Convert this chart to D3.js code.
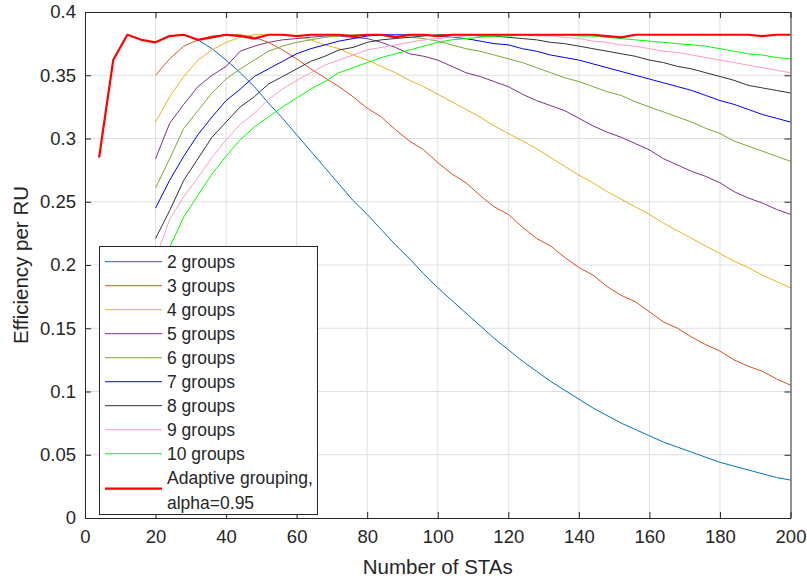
<!DOCTYPE html>
<html>
<head>
<meta charset="utf-8">
<script src="https://cdn.jsdelivr.net/npm/d3@7"></script>
<style>
  body { margin: 0; background: #fff; }
  text { font-family: "Liberation Sans", Arial, sans-serif; fill: #262626; }
</style>
</head>
<body>
<div id="chart"></div>
<script>
// Number of STAs for the fixed-group curves and for the adaptive curve
const stas = [20, 24, 28, 32, 36, 40, 44, 48, 52, 56, 60, 64, 68, 72, 76, 80, 84, 88, 92, 96,
  100, 104, 108, 112, 116, 120, 124, 128, 132, 136, 140, 144, 148, 152, 156, 160, 164, 168,
  172, 176, 180, 184, 188, 192, 196, 200];
const stasAdaptive = [4, 8, 12, 16].concat(stas);

const groups2 = [0.376, 0.381, 0.382, 0.378, 0.371, 0.362, 0.352, 0.341, 0.328, 0.316, 0.303,
  0.290, 0.277, 0.264, 0.251, 0.240, 0.228, 0.216, 0.205, 0.193, 0.182, 0.172, 0.162, 0.152,
  0.142, 0.133, 0.124, 0.116, 0.108, 0.101, 0.094, 0.087, 0.081, 0.075, 0.070, 0.065, 0.060,
  0.056, 0.052, 0.048, 0.044, 0.041, 0.038, 0.035, 0.032, 0.030];
const groups3 = [0.350, 0.363, 0.373, 0.378, 0.381, 0.382, 0.382, 0.380, 0.376, 0.370, 0.363,
  0.355, 0.348, 0.341, 0.333, 0.324, 0.317, 0.307, 0.298, 0.291, 0.281, 0.272, 0.265, 0.255,
  0.246, 0.240, 0.230, 0.221, 0.215, 0.206, 0.198, 0.192, 0.183, 0.176, 0.171, 0.163, 0.155,
  0.150, 0.143, 0.137, 0.132, 0.125, 0.120, 0.116, 0.110, 0.105];
const groups4 = [0.313, 0.333, 0.349, 0.362, 0.370, 0.376, 0.380, 0.382, 0.382, 0.382, 0.381,
  0.378, 0.374, 0.371, 0.366, 0.362, 0.357, 0.352, 0.346, 0.341, 0.335, 0.329, 0.323, 0.317,
  0.310, 0.304, 0.298, 0.292, 0.285, 0.278, 0.271, 0.265, 0.258, 0.252, 0.246, 0.240, 0.233,
  0.227, 0.221, 0.215, 0.209, 0.203, 0.198, 0.192, 0.187, 0.182];
const groups5 = [0.284, 0.312, 0.327, 0.341, 0.350, 0.357, 0.369, 0.373, 0.376, 0.378, 0.379,
  0.380, 0.381, 0.381, 0.380, 0.379, 0.376, 0.372, 0.367, 0.365, 0.362, 0.357, 0.352, 0.349,
  0.345, 0.341, 0.335, 0.330, 0.326, 0.322, 0.316, 0.310, 0.305, 0.301, 0.296, 0.291, 0.284,
  0.279, 0.274, 0.270, 0.265, 0.258, 0.253, 0.249, 0.244, 0.240];
const groups6 = [0.261, 0.284, 0.308, 0.322, 0.336, 0.347, 0.355, 0.362, 0.369, 0.373, 0.376,
  0.378, 0.380, 0.381, 0.382, 0.382, 0.382, 0.381, 0.380, 0.379, 0.377, 0.374, 0.371, 0.369,
  0.366, 0.363, 0.360, 0.356, 0.352, 0.348, 0.345, 0.341, 0.337, 0.334, 0.329, 0.325, 0.321,
  0.317, 0.313, 0.308, 0.304, 0.298, 0.294, 0.290, 0.286, 0.282];
const groups7 = [0.245, 0.267, 0.286, 0.303, 0.317, 0.330, 0.339, 0.349, 0.355, 0.361, 0.367,
  0.371, 0.374, 0.377, 0.379, 0.381, 0.382, 0.382, 0.382, 0.382, 0.381, 0.380, 0.379, 0.377,
  0.375, 0.374, 0.371, 0.369, 0.366, 0.364, 0.362, 0.359, 0.356, 0.353, 0.350, 0.347, 0.344,
  0.341, 0.338, 0.334, 0.330, 0.327, 0.323, 0.319, 0.316, 0.313];
const groups8 = [0.221, 0.243, 0.267, 0.284, 0.301, 0.313, 0.325, 0.333, 0.343, 0.349, 0.355,
  0.361, 0.365, 0.370, 0.372, 0.376, 0.378, 0.379, 0.380, 0.381, 0.382, 0.382, 0.382, 0.381,
  0.381, 0.380, 0.379, 0.378, 0.376, 0.375, 0.373, 0.371, 0.369, 0.367, 0.365, 0.362, 0.360,
  0.357, 0.355, 0.352, 0.349, 0.346, 0.342, 0.340, 0.338, 0.336];
const groups9 = [0.205, 0.236, 0.254, 0.269, 0.285, 0.299, 0.311, 0.320, 0.331, 0.339, 0.346,
  0.352, 0.358, 0.362, 0.366, 0.370, 0.372, 0.374, 0.376, 0.378, 0.379, 0.380, 0.381, 0.382,
  0.382, 0.382, 0.382, 0.381, 0.381, 0.380, 0.379, 0.377, 0.376, 0.374, 0.373, 0.371, 0.369,
  0.368, 0.366, 0.364, 0.362, 0.360, 0.358, 0.356, 0.354, 0.352];
const groups10 = [0.190, 0.214, 0.238, 0.255, 0.272, 0.286, 0.299, 0.309, 0.317, 0.325, 0.332,
  0.339, 0.345, 0.352, 0.356, 0.360, 0.364, 0.367, 0.370, 0.373, 0.376, 0.378, 0.379, 0.380,
  0.381, 0.381, 0.382, 0.382, 0.382, 0.382, 0.381, 0.381, 0.380, 0.379, 0.378, 0.377, 0.376,
  0.375, 0.374, 0.373, 0.371, 0.369, 0.367, 0.366, 0.364, 0.363];
const adaptive = [0.285, 0.362, 0.382, 0.378, 0.376, 0.381, 0.382, 0.378, 0.380, 0.382, 0.381,
  0.379, 0.382, 0.382, 0.381, 0.382, 0.382, 0.382, 0.381, 0.382, 0.382, 0.380, 0.382, 0.382,
  0.381, 0.382, 0.382, 0.382, 0.382, 0.382, 0.382, 0.382, 0.382, 0.382, 0.382, 0.382, 0.381,
  0.380, 0.382, 0.382, 0.382, 0.382, 0.382, 0.382, 0.382, 0.382, 0.382, 0.381, 0.382, 0.382];

const seriesNames = ["2 groups", "3 groups", "4 groups", "5 groups", "6 groups", "7 groups",
  "8 groups", "9 groups", "10 groups", "Adaptive grouping,|alpha=0.95"];
const seriesColors = ["#0072BD", "#D95319", "#EDB120", "#7E2F8E", "#77AC30", "#0000FF",
  "#333333", "#FF99CC", "#00FF00", "#FF0000"];

const xTicks = [0, 20, 40, 60, 80, 100, 120, 140, 160, 180, 200];
const yTicks = [0, 0.05, 0.1, 0.15, 0.2, 0.25, 0.3, 0.35, 0.4];

const series = [groups2, groups3, groups4, groups5, groups6, groups7, groups8, groups9, groups10]
  .map((vals, i) => ({
    name: seriesNames[i], color: seriesColors[i], width: 1,
    points: stas.map((x, j) => [x, vals[j]])
  }));
series.push({
  name: seriesNames[9], color: seriesColors[9], width: 2.2,
  points: stasAdaptive.map((x, j) => [x, adaptive[j]])
});

const W = 807, H = 584;
const margin = { top: 12, right: 16.5, bottom: 66, left: 85 };
const width = W - margin.left - margin.right;
const height = H - margin.top - margin.bottom;

const svg = d3.select("#chart").append("svg")
  .attr("width", W).attr("height", H);
const g = svg.append("g")
  .attr("transform", `translate(${margin.left},${margin.top})`);

const x = d3.scaleLinear().domain([0, 200]).range([0, width]);
const y = d3.scaleLinear().domain([0, 0.4]).range([height, 0]);

// grid
g.append("g").selectAll("line").data(xTicks.slice(1, -1)).enter().append("line")
  .attr("x1", d => x(d)).attr("x2", d => x(d)).attr("y1", 0).attr("y2", height)
  .attr("stroke", "#dfdfdf").attr("stroke-width", 1);
g.append("g").selectAll("line").data(yTicks.slice(1, -1)).enter().append("line")
  .attr("y1", d => y(d)).attr("y2", d => y(d)).attr("x1", 0).attr("x2", width)
  .attr("stroke", "#dfdfdf").attr("stroke-width", 1);

// lines
const line = d3.line().x(d => x(d[0])).y(d => y(d[1]));
g.selectAll(".series").data(series).enter().append("path")
  .attr("class", "series")
  .attr("d", d => line(d.points))
  .attr("fill", "none")
  .attr("stroke", d => d.color)
  .attr("stroke-width", d => d.width)
  .attr("stroke-linejoin", "round");

// axes (ticks inward, box on)
const tickLen = 6;
const fmt = d => d3.format("")(+d.toFixed(2));
const styleAxis = sel => {
  sel.select(".domain").attr("stroke", "#262626");
  sel.selectAll(".tick line").attr("stroke", "#262626");
  sel.selectAll(".tick text").attr("fill", "#262626")
    .style("font-size", "18.5px").style("font-family", "'Liberation Sans', Arial, sans-serif");
};
g.append("g").attr("transform", `translate(0,${height})`)
  .call(d3.axisBottom(x).tickValues(xTicks).tickSize(-tickLen).tickSizeOuter(0).tickPadding(12))
  .call(styleAxis);
g.append("g")
  .call(d3.axisTop(x).tickValues(xTicks).tickSize(-tickLen).tickSizeOuter(0).tickFormat(""))
  .call(styleAxis);
g.append("g")
  .call(d3.axisLeft(y).tickValues(yTicks).tickSize(-tickLen).tickSizeOuter(0).tickPadding(9).tickFormat(fmt))
  .call(styleAxis);
g.append("g").attr("transform", `translate(${width},0)`)
  .call(d3.axisRight(y).tickValues(yTicks).tickSize(-tickLen).tickSizeOuter(0).tickFormat(""))
  .call(styleAxis);

// axis labels
g.append("text")
  .attr("x", width / 2).attr("y", height + 56)
  .attr("text-anchor", "middle")
  .style("font-size", "20.5px")
  .text("Number of STAs");
g.append("text")
  .attr("transform", "rotate(-90)")
  .attr("x", -height / 2).attr("y", -57)
  .attr("text-anchor", "middle")
  .style("font-size", "20.5px")
  .text("Efficiency per RU");

// legend
const legend = svg.append("g");
legend.append("rect")
  .attr("x", 99.5).attr("y", 246.5).attr("width", 218).attr("height", 268)
  .attr("fill", "#fff").attr("stroke", "#262626").attr("stroke-width", 1);
const rowY = i => 261.7 + 24 * i;
series.forEach((s, i) => {
  const parts = s.name.split("|");
  const ly = parts.length > 1 ? rowY(i) + 11 : rowY(i);
  legend.append("line")
    .attr("x1", 105).attr("x2", 162).attr("y1", ly).attr("y2", ly)
    .attr("stroke", s.color).attr("stroke-width", s.width);
  parts.forEach((p, k) => {
    legend.append("text")
      .attr("x", 167).attr("y", rowY(i) + k * 25)
      .attr("dy", "0.35em")
      .style("font-size", "17.5px")
      .text(p);
  });
});
</script>
</body>
</html>
